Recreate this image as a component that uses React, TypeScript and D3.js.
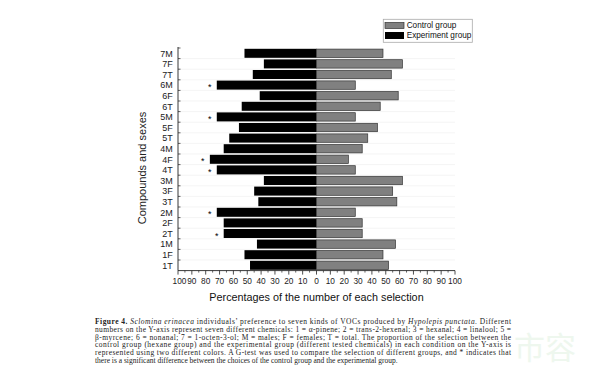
import React from "react";
import * as d3 from "d3";

const categories = ["7M","7F","7T","6M","6F","6T","5M","5F","5T","4M","4F","4T","3M","3F","3T","2M","2F","2T","1M","1F","1T"];
const experimentValues = [52,38,46,72,41,54,72,56,63,67,77,72,38,45,42,72,67,67,43,52,48];
const controlValues = [48,62,54,28,59,46,28,44,37,33,23,28,62,55,58,28,33,33,57,48,52];
const significant = ["6M","5M","4F","4T","2M","2T"];
const xTicks = [-100,-90,-80,-70,-60,-50,-40,-30,-20,-10,0,10,20,30,40,50,60,70,80,90,100];
const legendLabels = ["Control group", "Experiment group"];
const captionLines: { parts: { t: string; s?: string }[]; justify: boolean }[] = [
  { parts: [{ t: "Figure 4. ", s: "b" }, { t: "Sclomina erinacea", s: "i" }, { t: " individuals\u2019 preference to seven kinds of VOCs produced by " }, { t: "Hypolepis punctata", s: "i" }, { t: ". Different" }], justify: true },
  { parts: [{ t: "numbers on the Y-axis represent seven different chemicals: 1 = \u03b1-pinene; 2 = trans-2-hexenal; 3 = hexanal; 4 = linalool; 5 =" }], justify: true },
  { parts: [{ t: "\u03b2-myrcene; 6 = nonanal; 7 = 1-octen-3-ol; M = males; F = females; T = total. The proportion of the selection between the" }], justify: true },
  { parts: [{ t: "control group (hexane group) and the experimental group (different tested chemicals) in each condition on the Y-axis is" }], justify: true },
  { parts: [{ t: "represented using two different colors. A G-test was used to compare the selection of different groups, and * indicates that" }], justify: true },
  { parts: [{ t: "there is a significant difference between the choices of the control group and the experimental group." }], justify: false },
];

export default function App() {
  const W = 600, H = 382;
  const x = d3.scaleLinear().domain([-100, 100]).range([178, 455]);
  const y = d3.scaleBand<string>().domain(categories).range([48, 270.6]).paddingInner(0.15).paddingOuter(0.075);
  const step = y.step();
  const axisY = 270.6;
  const font = "Liberation Sans, Arial, sans-serif";
  const minorTicks = d3.range(-95, 100, 10);
  const boundaries = d3.range(0, categories.length + 1).map((i) => 48 + i * step);

  return (
    <svg width={W} height={H} style={{ position: "absolute", left: 0, top: 0, background: "#fff" }} fontFamily={font}>
      <rect x={0} y={0} width={W} height={H} fill="#fff" />
      {boundaries.slice(1, -1).map((b, i) => (
        <line key={"g" + i} x1={x(-100)} x2={x(100)} y1={b} y2={b} stroke="#ececec" strokeWidth={0.6} />
      ))}
      {categories.map((c, i) => (
        <g key={c}>
          <rect x={x(-experimentValues[i])} y={y(c)!} width={x(0) - x(-experimentValues[i])} height={y.bandwidth()} fill="#000" />
          <rect x={x(0)} y={y(c)! + 0.3} width={x(controlValues[i]) - x(0)} height={y.bandwidth() - 0.6} fill="#808080" stroke="#333" strokeWidth={0.7} />
          {significant.includes(c) && (
            <text x={x(-experimentValues[i]) - 7} y={y(c)! + y.bandwidth() / 2 + 5} fontSize={9} textAnchor="middle" fill="#000">*</text>
          )}
        </g>
      ))}
      <line x1={x(-100)} x2={x(-100)} y1={47} y2={axisY} stroke="#222" strokeWidth={0.9} />
      {boundaries.slice(0, -1).map((b, i) => (
        <line key={"yt" + i} x1={x(-100)} x2={x(-100) + 2.5} y1={b} y2={b} stroke="#222" strokeWidth={0.7} />
      ))}
      {categories.map((c) => (
        <text key={"yl" + c} x={172.8} y={y(c)! + y.bandwidth() / 2 + 3.2} fontSize={9} textAnchor="end" fill="#222">{c}</text>
      ))}
      <text transform={`translate(146,168) rotate(-90)`} fontSize={11} textAnchor="middle" fill="#222">Compounds and sexes</text>
      <line x1={x(-100)} x2={x(100)} y1={axisY} y2={axisY} stroke="#222" strokeWidth={0.9} />
      {xTicks.map((t) => (
        <line key={"xt" + t} x1={x(t)} x2={x(t)} y1={axisY} y2={axisY + 4} stroke="#222" strokeWidth={0.8} />
      ))}
      {minorTicks.map((t) => (
        <line key={"xm" + t} x1={x(t)} x2={x(t)} y1={axisY} y2={axisY + 2} stroke="#222" strokeWidth={0.7} />
      ))}
      {xTicks.map((t) => (
        <text key={"xl" + t} x={x(t) + (t === -100 ? 1.5 : 0)} y={283.5} fontSize={8.3} textAnchor="middle" fill="#222">{Math.abs(t)}</text>
      ))}
      <text x={x(0)} y={301} fontSize={10.8} textAnchor="middle" fill="#111">Percentages of the number of each selection</text>
      <rect x={383.3} y={19.3} width={89} height={23} fill="#fff" stroke="#aaa" strokeWidth={0.8} />
      <rect x={385} y={22.5} width={19} height={6} fill="#808080" stroke="#333" strokeWidth={0.7} />
      <rect x={385} y={32} width={19} height={7} fill="#000" />
      <text x={406.7} y={28.3} fontSize={8.2} fill="#111">{legendLabels[0]}</text>
      <text x={406.7} y={38.3} fontSize={8.2} fill="#111">{legendLabels[1]}</text>
      <text x={514} y={359} fontSize={31} fill="#eef7ee" fontFamily="Noto Sans CJK SC">市容</text>
      {captionLines.map((line, i) => (
        <text key={"cap" + i} x={95} y={324.3 + i * 7.7} fontSize={7.5} fontFamily="Liberation Serif, DejaVu Serif, serif" fill="#222"
          {...(line.justify ? { textLength: 416, lengthAdjust: "spacing" } : {})}>
          {line.parts.map((p, j) => (
            <tspan key={j} fontWeight={p.s === "b" ? "bold" : "normal"} fontStyle={p.s === "i" ? "italic" : "normal"}>{p.t}</tspan>
          ))}
        </text>
      ))}
    </svg>
  );
}
